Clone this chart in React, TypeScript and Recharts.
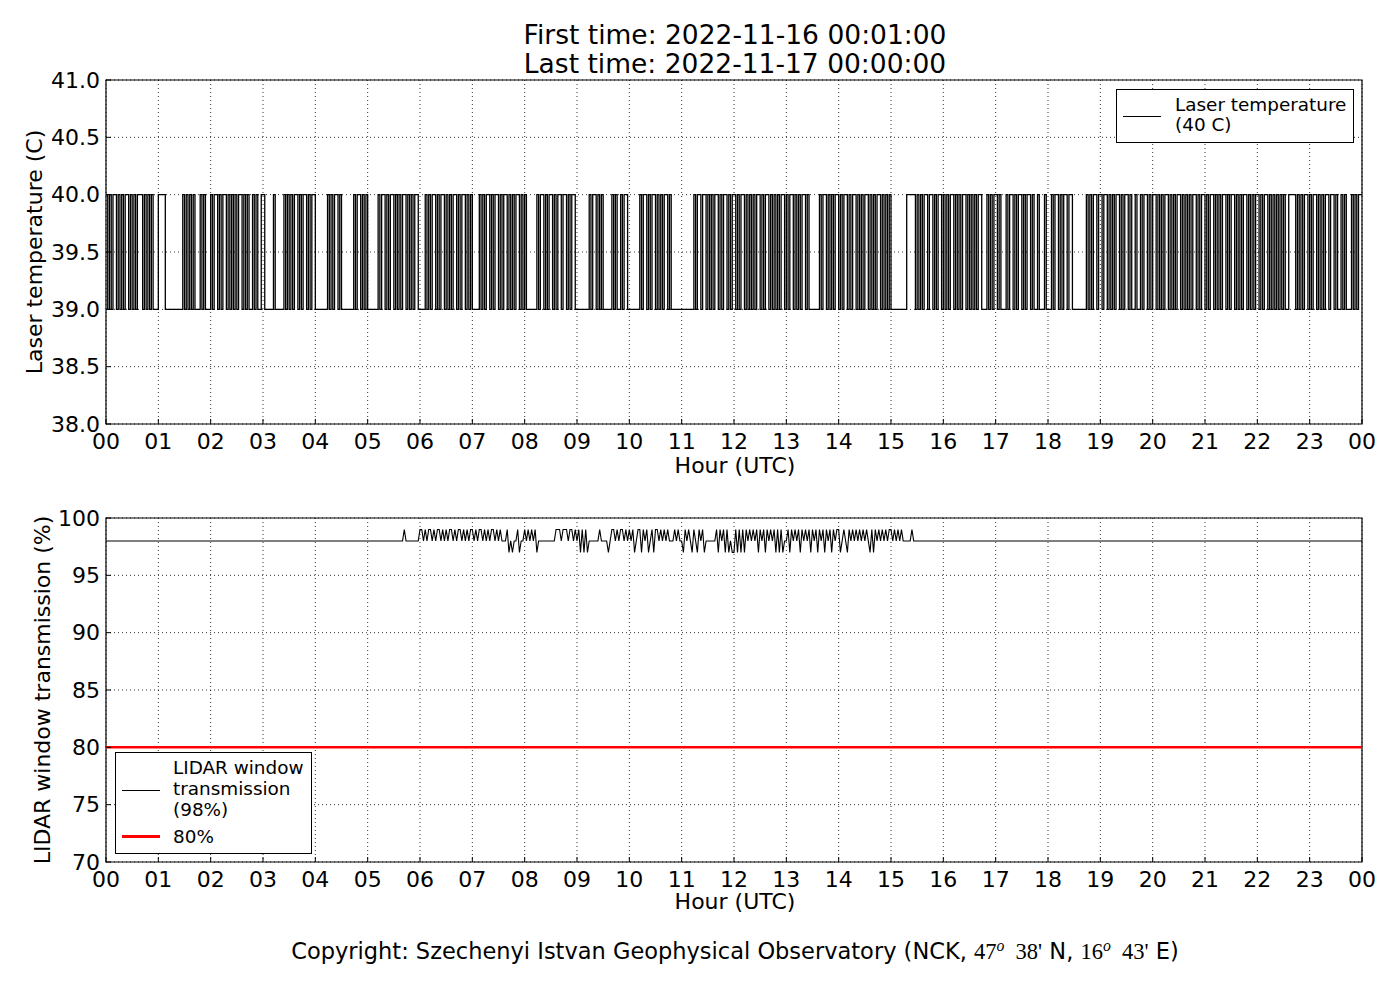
import React from 'react';
import {
    LineChart, Line, XAxis, YAxis, CartesianGrid, ReferenceArea, ReferenceLine,
} from 'recharts';

const FONT = '"DejaVu Sans", sans-serif';

const HOUR_TICKS = [0, 1, 2, 3, 4, 5, 6, 7, 8, 9, 10, 11, 12, 13, 14, 15, 16, 17, 18, 19, 20, 21, 22, 23, 24];
const TEMP_TICKS = [38, 38.5, 39, 39.5, 40, 40.5, 41];
const LIDAR_TICKS = [70, 75, 80, 85, 90, 95, 100];
const LIDAR_LIMIT = 80;

// laser temperature, one string per hour, 2-minute samples: '1' = 40 C, '0' = 39 C
const TEMP_HOURS = [
    '1010110101 0110101011 1010101000',
    '1111000000 0000101010 1000101000',
    '1011010110 1010101101 0100101001',
    '1000001000 0010101011 0101101011',
    '0000000101 0110100000 0010110101',
    '0000001011 0101101010 1101010110',
    '0001010110 1011010101 1010110101',
    '0000101011 0101101011 0101011010',
    '1000000101 1010110101 1011010110',
    '0000000101 1010100000 1010010110',
    '0000001011 0101101010 1101000000',
    '0000000101 1011010101 1010110101',
    '1010110101 0101101011 0101010110',
    '1011010101 1010000001 0110101011',
    '0101101011 0101011010 1011010101',
    '0000000001 1111010101 1011010110',
    '1010110101 0110101010 1100010101',
    '1010001011 0101101011 0100100010',
    '0010110101 1011000000 0010101101',
    '1011010101 1010110100 1001011010',
    '1101010110 1010110101 0101101011',
    '0101101010 1101011010 1011010101',
    '1010110101 0101010011 1101010110',
    '1011010101 1011010010 1000101011',
];

// LIDAR window transmission, one string per hour, 2-minute samples: '7' = 97 %, '8' = 98 %, '9' = 99 %
const LIDAR_HOURS = [
    '8888888888 8888888888 8888888888',
    '8888888888 8888888888 8888888888',
    '8888888888 8888888888 8888888888',
    '8888888888 8888888888 8888888888',
    '8888888888 8888888888 8888888888',
    '8888888888 8888888888 8988888888',
    '9989899898 9989898998 9899898989',
    '9898998989 8998989888 9787889788',
    '9898989788 8888888899 9899989989',
    '8979797888 8889888878 9989899898',
    '9897899798 9789799898 9898889898',
    '8798987987 9897888888 9798979787',
    '7979797989 8989798979 8989797978',
    '8979898979 8989798979 8979897989',
    '9789879898 9898989879 7989898989',
    '9898989888 8898888888 8888888888',
    '8888888888 8888888888 8888888888',
    '8888888888 8888888888 8888888888',
    '8888888888 8888888888 8888888888',
    '8888888888 8888888888 8888888888',
    '8888888888 8888888888 8888888888',
    '8888888888 8888888888 8888888888',
    '8888888888 8888888888 8888888888',
    '8888888888 8888888888 8888888888',
];

function toSeries(rows: string[], decode: (c: string) => number) {
    const out: { h: number; v: number }[] = [];
    rows.forEach((row, hour) => {
        const cells = row.replace(/ /g, '').split('');
        cells.forEach((c, i) => out.push({ h: hour + i / cells.length, v: decode(c) }));
    });
    out.push({ h: 24, v: out[out.length - 1].v });
    return out;
}

const tempData = toSeries(TEMP_HOURS, c => (c === '1' ? 40 : 39));
const lidarData = toSeries(LIDAR_HOURS, c => 90 + Number(c));

const tickStyle = { fontSize: 22, fill: '#000', fontFamily: FONT };
const hourLabel = (v: number) => String(v % 24).padStart(2, '0');

const abs = (left: number, top: number): React.CSSProperties => ({
    position: 'absolute', left, top,
});

function Centered({ x, y, size, children, rotate }: {
    x: number; y: number; size: number; children: React.ReactNode; rotate?: boolean;
}) {
    return (
        <div
            style={{
                ...abs(x, y),
                transform: `translate(-50%, -50%)${rotate ? ' rotate(-90deg)' : ''}`,
                fontSize: size,
                whiteSpace: 'nowrap',
                lineHeight: 1,
            }}
        >
            {children}
        </div>
    );
}

const mathStyle: React.CSSProperties = { fontFamily: '"Liberation Serif", serif' };
const supStyle: React.CSSProperties = { fontSize: '0.7em', fontStyle: 'italic' };

export default function App() {
    return (
        <div style={{ ...abs(0, 0), width: 1400, height: 1000, background: '#fff', fontFamily: FONT, color: '#000' }}>
            <div style={abs(0, 0)}>
                <LineChart width={1400} height={490} data={tempData} margin={{ top: 80, right: 38, bottom: 0, left: 0 }}>
                    <CartesianGrid stroke="#000" strokeDasharray="1 3" strokeWidth={0.8} />
                    <XAxis
                        type="number" dataKey="h" domain={[0, 24]} ticks={HOUR_TICKS} interval={0}
                        tickFormatter={hourLabel} height={66} tick={tickStyle}
                        tickSize={-5} tickMargin={14} axisLine={false} tickLine={{ stroke: '#000' }}
                        allowDataOverflow
                    />
                    <YAxis
                        type="number" domain={[38, 41]} ticks={TEMP_TICKS} interval={0}
                        tickFormatter={(v: number) => v.toFixed(1)} width={106} tick={tickStyle}
                        tickSize={-5} tickMargin={11} axisLine={false} tickLine={{ stroke: '#000' }}
                    />
                    <Line
                        type="stepAfter" dataKey="v" stroke="#000" strokeWidth={1.3}
                        dot={false} isAnimationActive={false}
                    />
                    <ReferenceArea x1={0} x2={24} y1={38} y2={41} fill="none" stroke="#000" strokeWidth={1.2} fillOpacity={0} />
                </LineChart>
            </div>

            <div style={abs(0, 440)}>
                <LineChart width={1400} height={490} data={lidarData} margin={{ top: 78, right: 38, bottom: 0, left: 0 }}>
                    <CartesianGrid stroke="#000" strokeDasharray="1 3" strokeWidth={0.8} />
                    <XAxis
                        type="number" dataKey="h" domain={[0, 24]} ticks={HOUR_TICKS} interval={0}
                        tickFormatter={hourLabel} height={68} tick={tickStyle}
                        tickSize={-5} tickMargin={14} axisLine={false} tickLine={{ stroke: '#000' }}
                        allowDataOverflow
                    />
                    <YAxis
                        type="number" domain={[70, 100]} ticks={LIDAR_TICKS} interval={0}
                        width={106} tick={tickStyle}
                        tickSize={-5} tickMargin={11} axisLine={false} tickLine={{ stroke: '#000' }}
                    />
                    <Line
                        type="linear" dataKey="v" stroke="#000" strokeWidth={1.1}
                        dot={false} isAnimationActive={false}
                    />
                    <ReferenceLine y={LIDAR_LIMIT} stroke="#ff0000" strokeWidth={2.5} />
                    <ReferenceArea x1={0} x2={24} y1={70} y2={100} fill="none" stroke="#000" strokeWidth={1.2} fillOpacity={0} />
                </LineChart>
            </div>

            <Centered x={735} y={35} size={26.5}>First time: 2022-11-16 00:01:00</Centered>
            <Centered x={735} y={64} size={26.5}>Last time: 2022-11-17 00:00:00</Centered>

            <Centered x={35} y={252} size={22} rotate>Laser temperature (C)</Centered>
            <Centered x={43} y={690} size={22} rotate>LIDAR window transmission (%)</Centered>
            <Centered x={735} y={466} size={22}>Hour (UTC)</Centered>
            <Centered x={735} y={902} size={22}>Hour (UTC)</Centered>

            <div style={{ ...abs(1116, 89), width: 238, height: 54, border: '1px solid #000', boxSizing: 'border-box', background: '#fff' }}>
                <div style={{ ...abs(6, 26), width: 38, height: 1, background: '#000' }} />
                <div style={{ ...abs(58, 5), fontSize: 18.4, lineHeight: '20px', whiteSpace: 'nowrap' }}>
                    Laser temperature<br />(40 C)
                </div>
            </div>

            <div style={{ ...abs(115, 752), width: 197, height: 102, border: '1px solid #000', boxSizing: 'border-box', background: '#fff' }}>
                <div style={{ ...abs(6, 37), width: 38, height: 1, background: '#000' }} />
                <div style={{ ...abs(57, 4), fontSize: 18.4, lineHeight: '21px', whiteSpace: 'nowrap' }}>
                    LIDAR window<br />transmission<br />(98%)
                </div>
                <div style={{ ...abs(6, 82), width: 38, height: 3, background: '#ff0000' }} />
                <div style={{ ...abs(57, 73), fontSize: 18.4, lineHeight: '21px', whiteSpace: 'nowrap' }}>80%</div>
            </div>

            <Centered x={735} y={950} size={22.5}>
                Copyright: Szechenyi Istvan Geophysical Observatory (NCK,{' '}
                <span style={mathStyle}>47<sup style={supStyle}>o</sup>&nbsp;&nbsp;38'</span>
                {' '}N,{' '}
                <span style={mathStyle}>16<sup style={supStyle}>o</sup>&nbsp;&nbsp;43'</span>
                {' '}E)
            </Centered>
        </div>
    );
}
